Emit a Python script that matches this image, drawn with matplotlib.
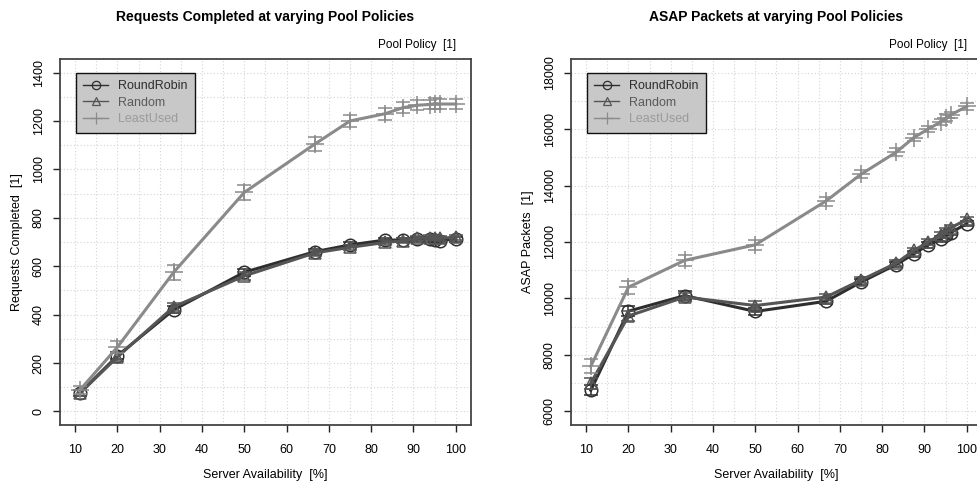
import matplotlib
matplotlib.use('Agg')
from matplotlib import pyplot as plt
from matplotlib.lines import Line2D
from matplotlib.ticker import MultipleLocator

plt.rcParams['font.family'] = ['Liberation Sans', 'DejaVu Sans']

# server availability [%]
avail = [11.1, 20.0, 33.3, 50.0, 66.7, 75.0, 83.3, 87.5, 90.9, 93.8, 95.2, 96.2, 100.0]

policies = ['RoundRobin', 'Random', 'LeastUsed']

# requests completed (mean, error)
req_rr = [76, 230, 420, 575, 660, 688, 708, 708, 712, 712, 710, 706, 712]
req_rnd = [75, 225, 432, 560, 655, 678, 698, 705, 715, 718, 718, 715, 720]
req_lu = [88, 266, 575, 905, 1105, 1200, 1230, 1255, 1265, 1268, 1272, 1270, 1270]
req_err_rr = [12, 15, 15, 15, 12, 10, 10, 10, 10, 10, 10, 10, 10]
req_err_rnd = [12, 15, 18, 15, 12, 10, 10, 10, 10, 10, 10, 10, 10]
req_err_lu = [15, 25, 30, 30, 30, 25, 25, 22, 20, 20, 22, 20, 20]

# ASAP packets (mean, error)
asap_rr = [6750, 9550, 10100, 9540, 9900, 10580, 11200, 11580, 11900, 12100, 12250, 12330, 12650]
asap_rnd = [7000, 9380, 10050, 9750, 10050, 10650, 11250, 11700, 12000, 12250, 12400, 12500, 12800]
asap_lu = [7600, 10400, 11350, 11900, 13450, 14400, 15180, 15700, 16000, 16250, 16400, 16500, 16800]
asap_err_rr = [180, 170, 150, 120, 110, 100, 100, 100, 100, 100, 100, 100, 100]
asap_err_rnd = [200, 180, 150, 150, 120, 100, 100, 100, 100, 100, 100, 100, 100]
asap_err_lu = [250, 230, 200, 180, 160, 150, 140, 130, 120, 120, 120, 120, 120]

colors = ['#2e2e2e', '#555555', '#8a8a8a']
text_colors = ['#2e2e2e', '#5a5a5a', '#9a9a9a']
markers = ['o', '^', '+']
msizes = [9, 9, 13]

fig = plt.figure(figsize=(9.78, 4.82), dpi=100)
ax1 = fig.add_axes([0.0613, 0.1183, 0.4203, 0.7593])
ax2 = fig.add_axes([0.5838, 0.1183, 0.4203, 0.7593])


def draw_panel(ax, series, errors, title, ylabel, ylim, ymajor, yminor):
    for i, (vals, errs) in enumerate(zip(series, errors)):
        ax.errorbar(avail, vals, yerr=errs, color=colors[i], linewidth=2.2,
                    marker=markers[i], markersize=msizes[i], markerfacecolor='none',
                    markeredgecolor=colors[i], markeredgewidth=1.1,
                    ecolor=colors[i], elinewidth=1.1, capsize=5, capthick=1.1,
                    zorder=3 + i)
    ax.set_xlim(6.4, 103.6)
    ax.set_ylim(*ylim)
    ax.xaxis.set_major_locator(MultipleLocator(10))
    ax.xaxis.set_minor_locator(MultipleLocator(5))
    ax.yaxis.set_major_locator(MultipleLocator(ymajor))
    ax.yaxis.set_minor_locator(MultipleLocator(yminor))
    ax.grid(which='both', color='#d4d4d4', linestyle=(0, (1, 2)), linewidth=0.8, zorder=0)
    ax.tick_params(which='minor', length=0)
    ax.tick_params(which='major', direction='out', length=5, width=1, color='#222222',
                   labelsize=9, pad=9)
    ax.tick_params(axis='y', pad=6)
    for lab in ax.get_yticklabels():
        lab.set_rotation(90)
        lab.set_verticalalignment('center')
    for sp in ax.spines.values():
        sp.set_color('#444444')
        sp.set_linewidth(1.3)
    ax.set_xlabel('Server Availability  [%]', fontsize=9, labelpad=9)
    ax.set_ylabel(ylabel, fontsize=9, labelpad=7)
    ax.set_title(title, fontsize=10, fontweight='bold', pad=27)
    ax.text(0.965, 1.022, 'Pool Policy  [1]', transform=ax.transAxes,
            ha='right', va='bottom', fontsize=8.5)
    handles = [Line2D([], [], color=colors[i], linewidth=1.0, marker=markers[i],
                      markersize=6 if i < 2 else 9, markerfacecolor='none',
                      markeredgewidth=0.9) for i in range(3)]
    leg = ax.legend(handles, policies, loc='upper left', bbox_to_anchor=(0.038, 0.962),
                    fontsize=9, fancybox=False, framealpha=1, facecolor='#c8c8c8',
                    edgecolor='#111111', handlelength=2.0, borderpad=0.6,
                    labelspacing=0.35, handletextpad=0.8, borderaxespad=0)
    leg.get_frame().set_linewidth(1.0)
    for i, t in enumerate(leg.get_texts()):
        t.set_color(text_colors[i])
    leg.set_zorder(10)


draw_panel(ax1, [req_rr, req_rnd, req_lu], [req_err_rr, req_err_rnd, req_err_lu],
           'Requests Completed at varying Pool Policies', 'Requests Completed  [1]',
           (-56, 1456), 200, 100)
draw_panel(ax2, [asap_rr, asap_rnd, asap_lu], [asap_err_rr, asap_err_rnd, asap_err_lu],
           'ASAP Packets at varying Pool Policies', 'ASAP Packets  [1]',
           (5520, 18480), 2000, 1000)

fig.savefig('out.png', dpi=100)
